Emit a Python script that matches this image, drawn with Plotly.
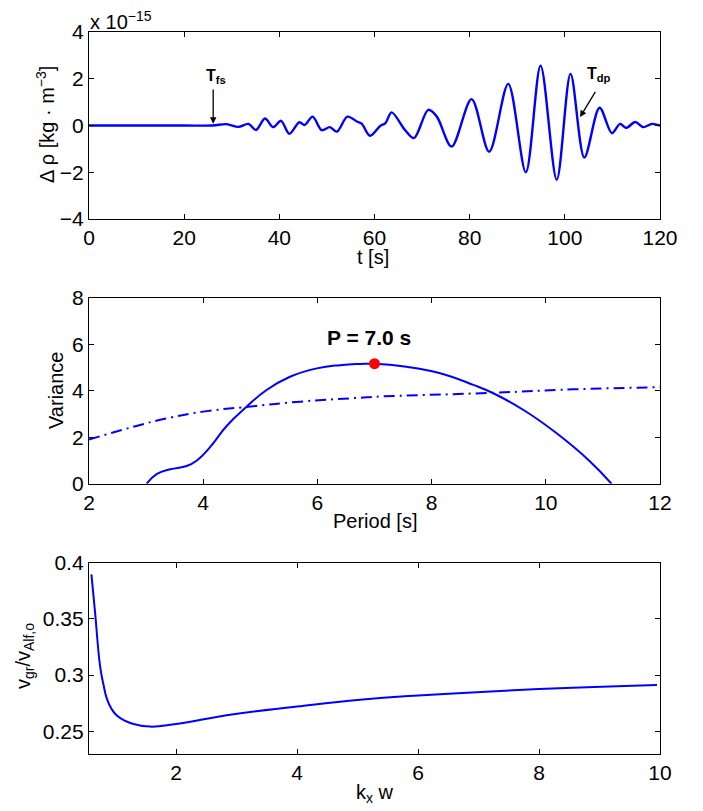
import plotly.graph_objects as go

# ---------------- data ----------------
# Panel 1: density perturbation time series (units of 1e-15 kg m^-3)
t_s = [0, 20, 26, 28.9, 31.4, 33.5, 35.1, 37.0, 38.7, 40.35, 42.1, 44.2, 45.3, 47.0,
       48.9, 50.6, 52.1, 54.3, 56.4, 57.3, 59.06, 61.2, 62.3, 63.6, 66.4, 68.3, 71.3,
       73.1, 76.2, 80.4, 84.1, 88.1, 91.8, 94.9, 98.3, 101.2, 104.1, 107.3, 109.9,
       111.6, 112.9, 114.8, 116.5, 118.3, 120]
drho = [0, 0, 0, 0.06, -0.06, 0.07, -0.19, 0.30, -0.07, 0.20, -0.36, 0.14, 0.02, 0.38,
        -0.20, -0.07, -0.26, 0.38, 0.16, 0.08, -0.44, -0.02, 0.10, 0.56, -0.19, -0.54, 0.67,
        0.38, -0.90, 1.13, -1.12, 1.78, -2.00, 2.56, -2.32, 2.21, -1.37, 0.76, -0.33,
        0.07, -0.10, 0.15, -0.07, 0.07, 0.0]

# Panel 2: variance vs period
period_solid = [3.01, 3.19, 3.42, 3.71, 3.89, 4.12, 4.41, 4.76, 5.11, 5.52, 5.99, 6.40,
                6.75, 7.0, 7.56, 8.15, 8.73, 9.08, 9.61, 10.19, 10.77, 11.15]
variance_solid = [0.0, 0.42, 0.62, 0.76, 1.00, 1.57, 2.48, 3.31, 4.03, 4.60, 4.96, 5.10,
                  5.15, 5.16, 5.03, 4.75, 4.25, 3.89, 3.17, 2.17, 0.97, 0.0]
period_dash = [2.0, 2.78, 3.36, 4.0, 4.79, 5.70, 6.75, 7.0, 9.08, 10.48, 12.0]
variance_dash = [1.90, 2.45, 2.81, 3.10, 3.31, 3.53, 3.70, 3.74, 3.91, 4.06, 4.15]
peak_period = [7.0]
peak_variance = [5.16]

# Panel 3: group velocity vs kx w
kxw = [0.6, 0.661, 0.744, 0.80, 0.855, 0.936, 1.02, 1.15, 1.295, 1.57, 2.0, 2.95, 4.0, 5.04, 6.0, 8.0, 9.95]
vgr = [0.3896, 0.3554, 0.3077, 0.2913, 0.2790, 0.2696, 0.2640, 0.2595, 0.2565, 0.2541, 0.2565, 0.2652,
       0.2720, 0.2780, 0.2818, 0.2875, 0.2912]

BLUE = "#0000FF"
FONT = "Liberation Sans, Arial, Helvetica, sans-serif"
OFF = 8                     # page body margin in the browser
W, H = 703 - OFF, 811 - OFF

def px(x):
    return (x - OFF) / W

def py(y):
    return 1 - (y - OFF) / H

fig = go.Figure()

fig.add_trace(go.Scatter(x=t_s, y=drho, mode="lines", line=dict(color=BLUE, width=2.4, shape="spline", smoothing=0.9),
                         xaxis="x", yaxis="y", showlegend=False))
fig.add_trace(go.Scatter(x=period_dash, y=variance_dash, mode="lines",
                         line=dict(color=BLUE, width=2, dash="11px,5px,2px,5px", shape="spline", smoothing=1.3),
                         xaxis="x2", yaxis="y2", showlegend=False))
fig.add_trace(go.Scatter(x=period_solid, y=variance_solid, mode="lines",
                         line=dict(color=BLUE, width=2, shape="spline", smoothing=1.3),
                         xaxis="x2", yaxis="y2", showlegend=False))
fig.add_trace(go.Scatter(x=peak_period, y=peak_variance, mode="markers",
                         marker=dict(color="#FF0000", size=11),
                         xaxis="x2", yaxis="y2", showlegend=False))
fig.add_trace(go.Scatter(x=kxw, y=vgr, mode="lines", line=dict(color=BLUE, width=2, shape="spline", smoothing=1.3),
                         xaxis="x3", yaxis="y3", showlegend=False))

xdom = [px(89), px(660)]
common = dict(showline=True, linecolor="black", linewidth=1.3, mirror="ticks", ticks="inside",
              ticklen=5, tickcolor="black", tickwidth=1, showgrid=False, zeroline=False,
              automargin=False,
              tickfont=dict(family=FONT, size=21, color="black"))

fig.update_layout(
    width=W, height=H,
    margin=dict(l=0, r=0, t=0, b=0),
    paper_bgcolor="white", plot_bgcolor="white",
    font=dict(family=FONT, color="black"),
    xaxis=dict(domain=xdom, range=[0, 120], tickvals=[0, 20, 40, 60, 80, 100, 120], anchor="y", **common),
    yaxis=dict(domain=[py(219), py(32)], range=[-4, 4], tickvals=[-4, -2, 0, 2, 4], anchor="x", **common),
    xaxis2=dict(domain=xdom, range=[2, 12], tickvals=[2, 4, 6, 8, 10, 12], anchor="y2", **common),
    yaxis2=dict(domain=[py(483.7), py(297.7)], range=[0, 8], tickvals=[0, 2, 4, 6, 8], anchor="x2", **common),
    xaxis3=dict(domain=xdom, range=[0.56, 10], tickvals=[2, 4, 6, 8, 10], anchor="y3", **common),
    yaxis3=dict(domain=[py(753.7), py(562.7)], range=[0.23, 0.4], tickvals=[0.25, 0.3, 0.35, 0.4],
                ticktext=["0.25", "0.3", "0.35", "0.4"], anchor="x3", **common),
)

ann = []
def txt(x, y, text, angle=0, size=20, xanchor="center", yanchor="middle"):
    ann.append(dict(x=px(x), y=py(y), xref="paper", yref="paper", text=text, showarrow=False,
                    textangle=angle, xanchor=xanchor, yanchor=yanchor,
                    font=dict(family=FONT, size=size, color="black")))

# axis titles
txt(373, 257, "t [s]")
txt(375, 521, "Period [s]")
txt(375, 793, "k<sub>x</sub> w")
txt(45, 125, "Δ ρ [kg · m<sup>−3</sup>]", angle=-90)
txt(56, 391, "Variance", angle=-90)
txt(24, 656, "v<sub>gr</sub>/v<sub>Alf,o</sub>", angle=-90)
# exponent label
txt(88, 21, "x 10<sup>−15</sup>", xanchor="left")

# arrows panel 1
ann.append(dict(x=26.1, y=0.08, ax=26.1, ay=1.6, xref="x", yref="y", axref="x", ayref="y",
                text="", showarrow=True, arrowhead=2, arrowsize=1, arrowwidth=1.3, arrowcolor="black"))
ann.append(dict(x=103.2, y=0.36, ax=106.6, ay=1.5, xref="x", yref="y", axref="x", ayref="y",
                text="", showarrow=True, arrowhead=2, arrowsize=1, arrowwidth=1.3, arrowcolor="black"))
ann.append(dict(x=26.6, y=2.1, xref="x", yref="y", text="<b>T<sub>fs</sub></b>", showarrow=False,
                font=dict(family=FONT, size=16, color="black")))
ann.append(dict(x=107.2, y=2.2, xref="x", yref="y", text="<b>T<sub>dp</sub></b>", showarrow=False,
                font=dict(family=FONT, size=16, color="black")))
# panel 2 label
ann.append(dict(x=6.9, y=6.3, xref="x2", yref="y2", text="<b>P = 7.0 s</b>", showarrow=False,
                font=dict(family=FONT, size=21, color="black")))

fig.update_layout(annotations=ann)
fig.write_html("out.html")
